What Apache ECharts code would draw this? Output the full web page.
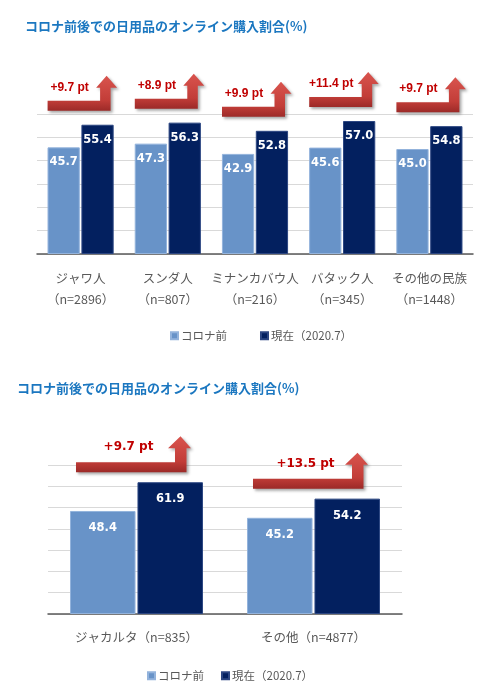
<!DOCTYPE html>
<html>
<head>
<meta charset="utf-8">
<script src="https://cdn.jsdelivr.net/npm/echarts@6/dist/echarts.min.js"></script>
<style>
  html, body { margin: 0; padding: 0; background: #fff; }
  #main { width: 500px; height: 688px; }
</style>
</head>
<body>
<div id="main"></div>
<script>
// 上段：民族別
var cats1 = ['ジャワ人\n（n=2896）', 'スンダ人\n（n=807）', 'ミナンカバウ人\n（n=216）', 'バタック人\n（n=345）', 'その他の民族\n（n=1448）'];
var before1 = [45.7, 47.3, 42.9, 45.6, 45.0];
var now1 = [55.4, 56.3, 52.8, 57.0, 54.8];
var diff1 = ['+9.7 pt', '+8.9 pt', '+9.9 pt', '+11.4 pt', '+9.7 pt'];

// 下段：地域別
var cats2 = ['ジャカルタ（n=835）', 'その他（n=4877）'];
var before2 = [48.4, 45.2];
var now2 = [61.9, 54.2];
var diff2 = ['+9.7 pt', '+13.5 pt'];

var titleText = 'コロナ前後での日用品のオンライン購入割合(%)';
var nameBefore = 'コロナ前';
var nameNow = '現在（2020.7）';

var cLight = '#6893c8';
var cDark = '#03205f';
var cText = '#595959';

// 矢印の形（カテゴリ中心と高い方の棒の上端からの相対位置）
var geo1 = { left: -33, shaftL: 19.5, shaftR: 30, headL: 15.5, headR: 36.5, tipX: 26,
             thick: 10, headBase: 23, tip: 35, gap: 14, labelX: -11, labelY: -23,
             font: 'bold 12px "Liberation Sans Narrow", "Arial Narrow", sans-serif' };
var geo2 = { left: -60.5, shaftL: 38.5, shaftR: 50, headL: 31.5, headR: 54.5, tipX: 44,
             thick: 10, headBase: 24, tip: 36, gap: 10, labelX: -8, labelY: -25,
             font: 'bold 12px "DejaVu Sans", Verdana, sans-serif' };

function arrowData(a, b) {
  return a.map(function (v, i) { return [i, Math.max(v, b[i])]; });
}

function arrowRenderer(g, labels) {
  return function (params, api) {
    var p = api.coord([api.value(0), api.value(1)]);
    var cx = p[0], b = p[1] - g.gap;
    var pts = [
      [cx + g.left, b],
      [cx + g.shaftR, b],
      [cx + g.shaftR, b - g.headBase],
      [cx + g.headR, b - g.headBase],
      [cx + g.tipX, b - g.tip],
      [cx + g.headL, b - g.headBase],
      [cx + g.shaftL, b - g.headBase],
      [cx + g.shaftL, b - g.thick],
      [cx + g.left, b - g.thick]
    ];
    return {
      type: 'group',
      children: [{
        type: 'polygon',
        shape: { points: pts },
        style: {
          fill: new echarts.graphic.LinearGradient(0, 0, 0, 1, [
            { offset: 0, color: '#d9544e' },
            { offset: 0.7, color: '#c23d38' },
            { offset: 1, color: '#9c2a28' }
          ]),
          shadowBlur: 3,
          shadowOffsetX: 2,
          shadowOffsetY: 2,
          shadowColor: 'rgba(0,0,0,0.35)'
        }
      }, {
        type: 'text',
        x: cx + g.labelX,
        y: b + g.labelY,
        style: {
          text: labels[params.dataIndex],
          fill: '#c00000',
          font: g.font,
          align: 'center',
          verticalAlign: 'middle'
        }
      }]
    };
  };
}

function barLabel(dist) {
  return {
    show: true,
    position: 'insideTop',
    distance: dist,
    color: '#fff',
    fontSize: 11.5,
    fontWeight: 'bold',
    fontFamily: '"DejaVu Sans", Verdana, sans-serif',
    formatter: function (p) { return p.value.toFixed(1); }
  };
}

var option = {
  backgroundColor: '#fff',
  animation: false,
  title: [
    { text: titleText, left: 20, top: 15,
      textStyle: { color: '#1b77c0', fontSize: 13, fontWeight: 'bold', fontFamily: '"Noto Sans CJK JP", sans-serif' } },
    { text: titleText, left: 12, top: 377,
      textStyle: { color: '#1b77c0', fontSize: 13, fontWeight: 'bold', fontFamily: '"Noto Sans CJK JP", sans-serif' } }
  ],
  legend: [
    { top: 325, left: 165, itemWidth: 7, itemHeight: 7, itemGap: 33, icon: 'rect',
      data: [nameBefore, nameNow],
      textStyle: { color: cText, fontSize: 11.5, fontFamily: '"Noto Sans CJK JP", sans-serif', padding: [0, 0, 0, -2] } },
    { top: 665, left: 142, itemWidth: 7, itemHeight: 7, itemGap: 17, icon: 'rect',
      data: [nameBefore, nameNow],
      textStyle: { color: cText, fontSize: 11.5, fontFamily: '"Noto Sans CJK JP", sans-serif', padding: [0, 0, 0, -2] } }
  ],
  grid: [
    { left: 37, right: 27, top: 114, height: 140 },
    { left: 48, right: 98, top: 465, height: 149 }
  ],
  xAxis: [
    { type: 'category', gridIndex: 0, data: cats1,
      axisLine: { lineStyle: { color: '#595959', width: 1.5 } },
      axisTick: { show: false },
      axisLabel: { color: cText, fontSize: 12.5, lineHeight: 21, margin: 14, interval: 0,
                   fontFamily: '"Noto Sans CJK JP", sans-serif' } },
    { type: 'category', gridIndex: 1, data: cats2,
      axisLine: { lineStyle: { color: '#595959', width: 1.5 } },
      axisTick: { show: false },
      axisLabel: { color: cText, fontSize: 12.5, margin: 17, interval: 0,
                   fontFamily: '"Noto Sans CJK JP", sans-serif' } }
  ],
  yAxis: [
    { type: 'value', gridIndex: 0, min: 0, max: 60, interval: 10,
      axisLabel: { show: false }, axisLine: { show: false }, axisTick: { show: false },
      splitLine: { lineStyle: { color: '#d9d9d9', width: 1.2 } } },
    { type: 'value', gridIndex: 1, min: 0, max: 70, interval: 10,
      axisLabel: { show: false }, axisLine: { show: false }, axisTick: { show: false },
      splitLine: { lineStyle: { color: '#d9d9d9', width: 1.2 } } }
  ],
  series: [
    { name: nameBefore, type: 'bar', xAxisIndex: 0, yAxisIndex: 0, data: before1,
      barWidth: '37%', barGap: '5%',
      itemStyle: { color: cLight, borderColor: '#93b3dc', borderWidth: 1 },
      label: barLabel(9) },
    { name: nameNow, type: 'bar', xAxisIndex: 0, yAxisIndex: 0, data: now1,
      barWidth: '37%', barGap: '5%',
      itemStyle: { color: cDark, borderColor: '#2c4682', borderWidth: 1 },
      label: barLabel(9) },
    { name: nameBefore, type: 'bar', xAxisIndex: 1, yAxisIndex: 1, data: before2,
      barWidth: '37%', barGap: '3%',
      itemStyle: { color: cLight, borderColor: '#93b3dc', borderWidth: 1 },
      label: barLabel(11) },
    { name: nameNow, type: 'bar', xAxisIndex: 1, yAxisIndex: 1, data: now2,
      barWidth: '37%', barGap: '3%',
      itemStyle: { color: cDark, borderColor: '#2c4682', borderWidth: 1 },
      label: barLabel(11) },
    { type: 'custom', xAxisIndex: 0, yAxisIndex: 0, clip: false, z: 5,
      data: arrowData(before1, now1), renderItem: arrowRenderer(geo1, diff1) },
    { type: 'custom', xAxisIndex: 1, yAxisIndex: 1, clip: false, z: 5,
      data: arrowData(before2, now2), renderItem: arrowRenderer(geo2, diff2) }
  ]
};

var myChart = echarts.init(document.getElementById('main'));
myChart.setOption(option);
</script>
</body>
</html>
